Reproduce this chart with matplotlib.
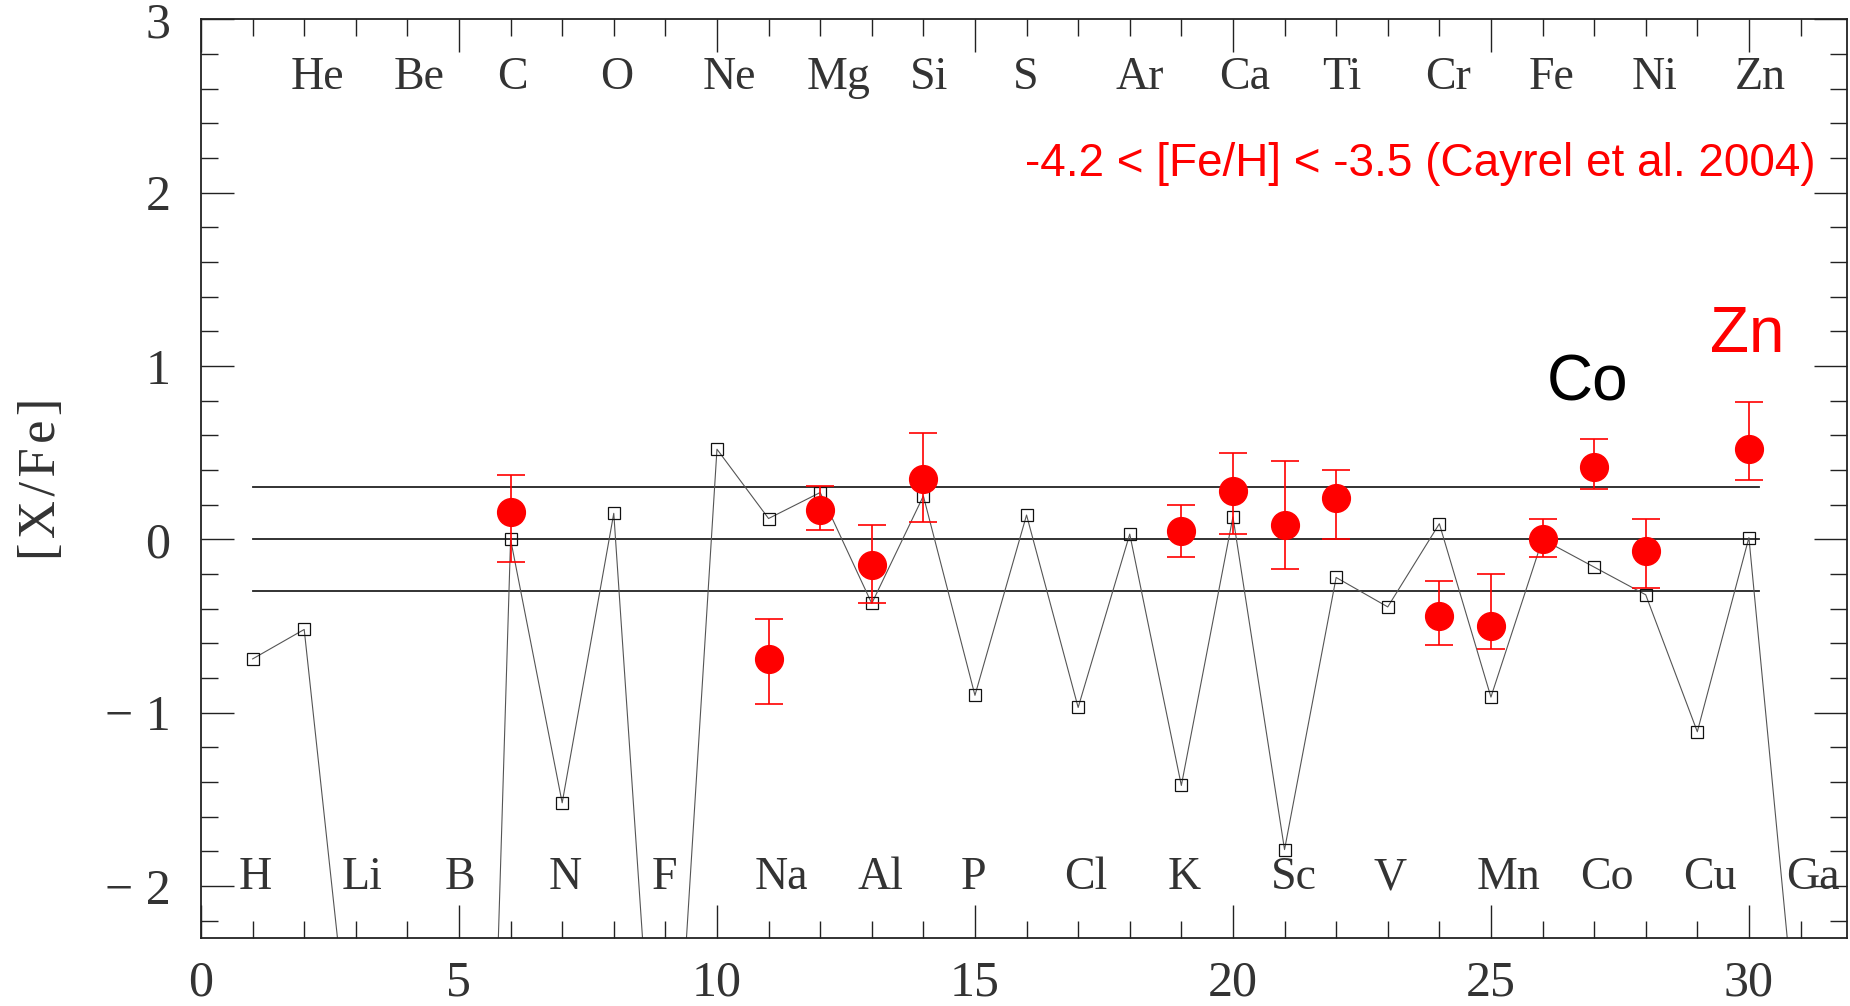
import numpy as np
import matplotlib
matplotlib.use("Agg")
import matplotlib.pyplot as plt
from matplotlib.ticker import MultipleLocator, FixedLocator, FixedFormatter

# model [X/Fe] for Z = 1..31 (open squares)
model_z = np.arange(1, 32)
model_val = [-0.69, -0.52, -3.28, -6.0, -9.7, 0.00, -1.52, 0.15, -4.25, 0.52,
             0.12, 0.27, -0.37, 0.25, -0.90, 0.14, -0.97, 0.03, -1.42, 0.13,
             -1.79, -0.22, -0.39, 0.09, -0.91, 0.00, -0.16, -0.32, -1.11, 0.01,
             -3.10]

# Cayrel et al. 2004 mean abundances (red dots) with error bar ends
cay_z = [6, 11, 12, 13, 14, 19, 20, 21, 22, 24, 25, 26, 27, 28, 30]
cay_val = [0.16, -0.69, 0.17, -0.15, 0.35, 0.05, 0.28, 0.08, 0.24, -0.44,
           -0.50, 0.00, 0.42, -0.07, 0.52]
cay_hi = [0.37, -0.46, 0.31, 0.08, 0.615, 0.20, 0.50, 0.45, 0.40, -0.24,
          -0.20, 0.115, 0.58, 0.115, 0.79]
cay_lo = [-0.13, -0.95, 0.055, -0.37, 0.10, -0.10, 0.03, -0.17, 0.0, -0.61,
          -0.63, -0.10, 0.29, -0.28, 0.34]

# element names, even Z on top row, odd Z on bottom row
top_names = ["He", "Be", "C", "O", "Ne", "Mg", "Si", "S", "Ar", "Ca", "Ti",
             "Cr", "Fe", "Ni", "Zn"]
top_z = list(range(2, 31, 2))
bot_names = ["H", "Li", "B", "N", "F", "Na", "Al", "P", "Cl", "K", "Sc", "V",
             "Mn", "Co", "Cu", "Ga"]
bot_z = list(range(1, 32, 2))

y_ticks = [-2, -1, 0, 1, 2, 3]
y_ticklabels = ["\u2212 2", "\u2212 1", "0", "1", "2", "3"]

ref_lines = [0.3, 0.0, -0.3]

serif = ["Liberation Serif", "DejaVu Serif"]
sans = ["Liberation Sans", "DejaVu Sans"]

fig = plt.figure(figsize=(18.5, 10.06), dpi=100)
ax = fig.add_axes([0.10865, 0.0676, 0.8897, 0.9132])

for y in ref_lines:
    ax.plot([1, 30.2], [y, y], color="#222222", lw=1.3, zorder=1)

ax.plot(model_z, model_val, color="#555555", lw=0.8, marker="s", ms=8.5,
        mfc="none", mec="#111111", mew=0.9, zorder=2)

cay_val_a = np.array(cay_val)
yerr = [cay_val_a - np.array(cay_lo), np.array(cay_hi) - cay_val_a]
ax.errorbar(cay_z, cay_val, yerr=yerr, fmt="o", color="red", ms=20,
            ecolor="red", elinewidth=1.2, capsize=10, capthick=1.2, zorder=3)

for name, z in zip(top_names, top_z):
    ax.text(z - 0.27, 2.6, name, fontsize=33, family=serif, color="#333333",
            ha="left", va="baseline")
for name, z in zip(bot_names, bot_z):
    ax.text(z - 0.27, -2.02, name, fontsize=33, family=serif, color="#333333",
            ha="left", va="baseline")

ax.text(15.97, 2.096, "-4.2 < [Fe/H] < -3.5 (Cayrel et al. 2004)",
        fontsize=33, family=sans, color="red", ha="left", va="baseline")
ax.text(26.08, 0.80, "Co", fontsize=46, family=sans, color="black",
        ha="left", va="baseline")
ax.text(29.25, 1.08, "Zn", fontsize=46, family=sans, color="red",
        ha="left", va="baseline")

ax.set_xlim(0, 31.9)
ax.set_ylim(-2.3, 3)
ax.xaxis.set_major_locator(MultipleLocator(5))
ax.xaxis.set_minor_locator(MultipleLocator(1))
ax.yaxis.set_major_locator(FixedLocator(y_ticks))
ax.yaxis.set_major_formatter(FixedFormatter(y_ticklabels))
ax.yaxis.set_minor_locator(MultipleLocator(0.2))

ax.tick_params(which="both", direction="in", top=True, right=True,
               width=1.0, color="#222222")
ax.tick_params(which="major", length=24)
ax.tick_params(which="minor", length=12)
ax.tick_params(axis="x", pad=16)
ax.tick_params(axis="y", pad=22)
for lab in ax.get_xticklabels() + ax.get_yticklabels():
    lab.set_family(serif)
    lab.set_fontsize(36)
    lab.set_color("#333333")

for sp in ax.spines.values():
    sp.set_linewidth(1.3)
    sp.set_color("#222222")

ax.set_ylabel("[\u200aX\u200a/\u200aF\u200ae\u200a]", fontsize=38,
              family=serif, color="#333333", va="center")
ax.yaxis.set_label_coords(-0.0966, 0.5)

fig.savefig("out.png", dpi=100)
